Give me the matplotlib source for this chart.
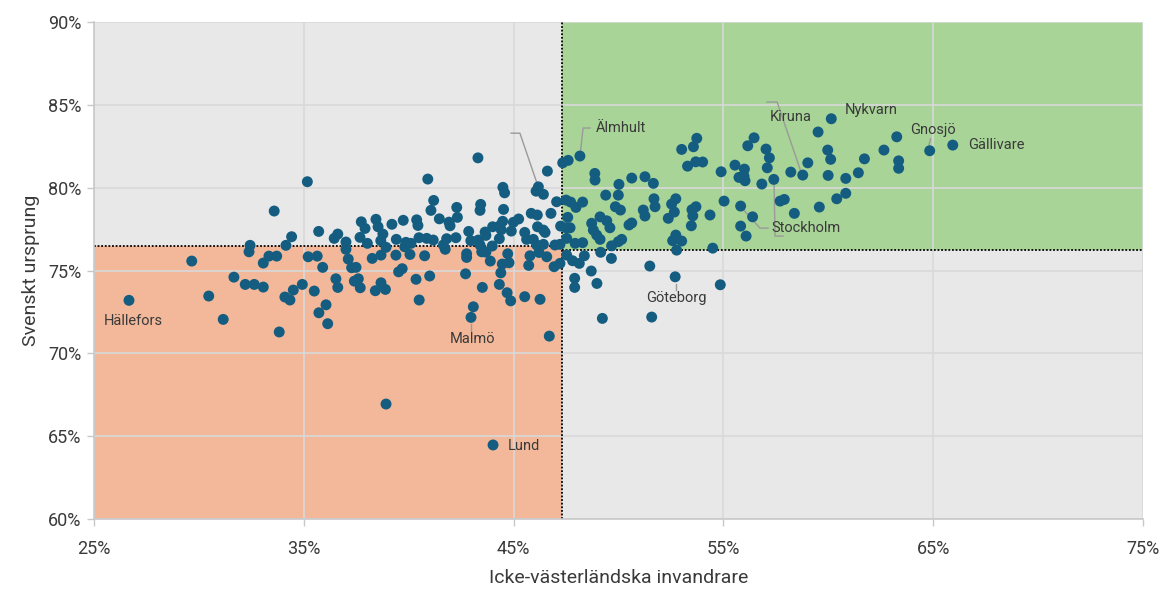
import matplotlib.pyplot as plt
from matplotlib.patches import Rectangle
from matplotlib.ticker import FuncFormatter

plt.rcParams['font.family'] = ['Roboto', 'DejaVu Sans']

# andel icke-västerländska invandrare (%) per kommun
x_vals = [
    35.17, 33.59, 34.42, 34.15, 32.44, 32.39, 29.66, 33.34, 33.71, 33.07,
    35.21, 31.67, 32.21, 32.64, 33.07, 34.93, 34.50, 34.10, 34.34, 30.47,
    26.67, 31.16, 33.83,
    40.91, 41.19, 41.06, 41.46, 35.71, 37.74, 37.92, 38.44, 38.54, 39.20,
    39.74, 40.38, 40.44, 38.77, 36.62, 36.45, 37.01, 37.68, 38.03, 38.67,
    39.41, 39.87, 40.11, 40.49, 40.86, 41.17, 38.92, 39.81, 37.01, 35.64,
    37.12, 38.26, 38.68, 39.39, 40.06, 40.76, 35.90, 37.28, 37.49, 39.52,
    39.69, 40.35, 41.00, 35.50, 36.53, 36.62, 37.41, 37.60, 37.69, 38.41,
    38.68, 38.89, 36.06, 35.72, 36.14, 40.50,
    43.30, 46.61, 47.34, 47.60, 44.49, 44.57, 46.18, 46.07, 46.42, 43.43,
    43.40, 42.29, 42.32, 41.92, 41.97, 44.52, 45.84, 46.13, 46.78, 47.05,
    47.50, 45.24, 44.99, 44.48, 44.32, 44.00, 44.41, 44.89, 42.86, 43.64,
    43.68, 46.14, 46.42, 46.50, 47.24, 47.50, 45.53, 45.62, 45.94, 44.32,
    43.32, 42.96, 41.81, 42.25, 41.65, 41.74, 43.40, 43.98, 46.10, 46.42,
    46.97, 47.21, 47.53, 42.76, 42.76, 43.48, 43.68, 43.89, 44.72, 45.78,
    46.21, 46.58, 46.93, 47.21, 47.53, 44.46, 44.78, 45.72, 44.39, 42.71,
    44.32, 43.51, 44.69, 44.86, 45.53, 46.26, 43.08, 42.97, 46.70,
    48.16, 48.87, 48.88, 50.02, 50.63, 51.26, 51.66, 53.01, 53.57, 53.73,
    53.29, 53.68, 49.39, 49.99, 51.69, 51.74, 52.73, 52.53, 52.66, 52.37,
    53.50, 53.69, 53.54, 53.47, 51.18, 51.26, 49.85, 50.09, 47.72, 47.97,
    48.29, 47.58, 49.12, 49.44, 49.59, 48.72, 48.80, 48.96, 49.12, 47.69,
    47.93, 48.29, 50.50, 50.63, 50.15, 49.99, 49.67, 52.73, 52.58, 53.01,
    52.77, 47.81, 48.13, 48.37, 49.15, 49.66, 48.70, 47.91, 47.91, 48.97,
    51.49, 52.70, 49.23, 51.58,
    60.14, 59.51, 56.46, 56.16, 57.03, 57.19, 59.97, 60.11, 59.02, 54.01,
    54.89, 55.55, 56.00, 55.74, 56.03, 55.98, 57.09, 56.83, 57.40, 58.21,
    58.78, 59.99, 60.83, 61.43, 60.83, 60.40, 59.57, 58.38, 57.70, 57.90,
    55.03, 55.82, 56.39, 55.82, 56.08, 54.36, 54.49, 54.85,
    63.26, 62.65, 61.72, 63.35, 63.35, 64.83, 65.93,
    38.92, 44.02,
]

# andel med svenskt ursprung (%) per kommun
y_vals = [
    80.36, 78.59, 77.04, 76.52, 76.52, 76.13, 75.57, 75.87, 75.87, 75.45,
    75.83, 74.60, 74.16, 74.16, 74.00, 74.16, 73.82, 73.40, 73.22, 73.46,
    73.20, 72.05, 71.29,
    80.52, 79.23, 78.63, 78.12, 77.36, 77.94, 77.54, 78.09, 77.64, 77.79,
    78.03, 78.06, 77.72, 77.20, 77.20, 76.94, 76.72, 77.00, 76.64, 76.80,
    76.88, 76.70, 76.64, 76.98, 76.94, 76.84, 76.40, 76.43, 76.28, 75.87,
    75.69, 75.73, 75.93, 75.93, 75.97, 75.89, 75.19, 75.17, 75.19, 74.92,
    75.11, 74.47, 74.67, 73.76, 74.50, 73.98, 74.36, 74.50, 73.96, 73.78,
    74.26, 73.86, 72.93, 72.45, 71.79, 73.22,
    81.80, 81.00, 81.50, 81.65, 80.02, 79.69, 80.05, 79.79, 79.60, 78.99,
    78.63, 78.81, 78.21, 77.92, 77.70, 78.69, 78.45, 78.35, 78.45, 79.15,
    79.25, 78.11, 77.91, 77.97, 77.68, 77.64, 77.46, 77.38, 77.36, 77.32,
    77.12, 77.64, 77.44, 77.30, 77.68, 77.58, 77.30, 76.88, 76.88, 76.92,
    76.84, 76.80, 76.92, 76.98, 76.54, 76.28, 76.54, 76.48, 76.54, 76.58,
    76.54, 76.58, 76.94, 76.01, 75.79, 76.13, 76.11, 75.57, 76.01, 75.89,
    76.09, 75.83, 75.23, 75.43, 75.93, 75.39, 75.47, 75.31, 74.86, 74.80,
    74.16, 73.98, 73.66, 73.17, 73.42, 73.26, 72.81, 72.17, 71.04,
    81.91, 80.86, 80.46, 80.20, 80.58, 80.66, 80.26, 82.31, 82.47, 82.98,
    81.30, 81.56, 79.55, 79.55, 79.33, 78.85, 79.33, 79.01, 78.53, 78.15,
    78.67, 78.85, 78.30, 77.70, 78.65, 78.29, 78.85, 78.65, 79.13, 78.81,
    79.13, 78.21, 78.24, 78.00, 77.58, 77.85, 77.44, 77.14, 76.88, 77.58,
    76.64, 76.68, 77.75, 77.87, 76.88, 76.74, 76.49, 77.14, 76.80, 76.78,
    76.23, 75.59, 75.43, 75.89, 76.10, 75.73, 74.97, 74.53, 73.98, 74.22,
    75.27, 74.62, 72.11, 72.19,
    84.16, 83.36, 83.01, 82.53, 82.33, 81.80, 82.27, 81.71, 81.50, 81.55,
    80.96, 81.36, 81.12, 80.62, 80.42, 80.70, 81.20, 80.22, 80.50, 80.94,
    80.76, 80.74, 80.56, 80.90, 79.66, 79.33, 78.83, 78.45, 79.19, 79.29,
    79.19, 78.89, 78.24, 77.68, 77.08, 78.35, 76.35, 74.14,
    83.07, 82.27, 81.74, 81.62, 81.17, 82.23, 82.57,
    66.94, 64.47,
]

# medianer som delar in kvadranterna
median_x = 47.3
median_y_left = 76.5
median_y_right = 76.25

# etiketter: namn, textposition, justering
label_names = ['Hällefors', 'Malmö', 'Lund', 'Göteborg', 'Älmhult', 'Kiruna',
               'Nykvarn', 'Gnosjö', 'Gällivare', 'Stockholm']
label_x = [26.86, 43.02, 44.73, 52.74, 48.93, 57.22, 60.80, 63.89, 66.66, 57.27]
label_y = [71.95, 70.86, 64.41, 73.34, 83.60, 84.26, 84.68, 83.48, 82.57, 77.56]
label_ha = ['center', 'center', 'left', 'center', 'left', 'left', 'left', 'left',
            'left', 'left']

# ledarlinjer
leaders = [
    ([42.97, 42.97], [71.75, 71.35]),
    ([52.72, 52.72], [74.2, 73.8]),
    ([48.19, 48.31, 48.64], [82.2, 83.6, 83.6]),
    ([44.88, 45.30, 46.16], [83.29, 83.29, 80.1]),
    ([57.08, 57.56, 58.70], [85.17, 85.17, 80.94]),
    ([64.80, 64.87], [82.6, 82.95]),
    ([55.84, 56.74, 57.13], [78.83, 77.56, 77.56]),
    ([57.41, 57.46, 57.84], [80.40, 77.08, 77.08]),
]

dot_color = '#145d80'
text_color = '#3a3a3a'

fig = plt.figure(figsize=(11.73, 5.90), dpi=100)
ax = fig.add_axes([0.0801, 0.1203, 0.8944, 0.8424])
ax.set_facecolor('#e8e8e8')
ax.set_xlim(25, 75)
ax.set_ylim(60, 90)

ax.add_patch(Rectangle((25, 60), median_x - 25, median_y_left - 60,
                       facecolor='#f3b899', edgecolor='none', zorder=0.5))
ax.add_patch(Rectangle((median_x, median_y_right), 75 - median_x, 90 - median_y_right,
                       facecolor='#a8d497', edgecolor='none', zorder=0.5))

ax.plot([25, median_x], [median_y_left, median_y_left], color='black', lw=1.3,
        ls=(0, (1, 1)), zorder=2)
ax.plot([median_x, 75], [median_y_right, median_y_right], color='black', lw=1.3,
        ls=(0, (1, 1)), zorder=2)
ax.plot([median_x, median_x], [60, 90], color='black', lw=1.3,
        ls=(0, (1, 1)), zorder=2)

ax.set_xticks([25, 35, 45, 55, 65, 75])
ax.set_yticks([60, 65, 70, 75, 80, 85, 90])
ax.grid(True, color='#d9d9d9', lw=1.2)
ax.set_axisbelow('line')

pct = FuncFormatter(lambda v, p: '%d%%' % v)
ax.xaxis.set_major_formatter(pct)
ax.yaxis.set_major_formatter(pct)
ax.tick_params(axis='both', color='#c8c8c8', labelcolor=text_color, labelsize=13,
               length=5, width=1)
ax.tick_params(axis='x', pad=10)
ax.tick_params(axis='y', pad=4)

for side in ['top', 'right']:
    ax.spines[side].set_visible(False)
for side in ['left', 'bottom']:
    ax.spines[side].set_color('#c8c8c8')
    ax.spines[side].set_linewidth(1.2)

for lx, ly in leaders:
    ax.plot(lx, ly, color='#9a9a9a', lw=1, zorder=2.5)

ax.scatter(x_vals, y_vals, s=62, color=dot_color, edgecolors='none', zorder=3)

for name, tx, ty, ha in zip(label_names, label_x, label_y, label_ha):
    ax.text(tx, ty, name, ha=ha, va='center', fontsize=10.5, color=text_color, zorder=4)

ax.set_xlabel('Icke-västerländska invandrare', fontsize=14, color=text_color,
              labelpad=8)
ax.set_ylabel('Svenskt ursprung', fontsize=14, color=text_color, labelpad=6)

fig.savefig('out.png', dpi=100)
